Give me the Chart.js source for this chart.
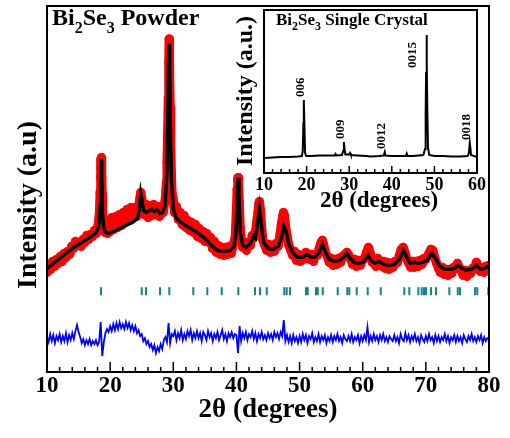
<!DOCTYPE html>
<html>
<head>
<meta charset="utf-8">
<script src="https://cdn.jsdelivr.net/npm/chart.js@4.4.1/dist/chart.umd.min.js"></script>
<style>
  html, body { margin: 0; padding: 0; background: #fff; }
  #wrap { position: relative; width: 510px; height: 438px; }
  #wrap canvas { position: absolute; left: 0; top: 0; }
</style>
</head>
<body>
<div id="wrap">
  <canvas id="main" width="510" height="438"></canvas>
  <canvas id="inset" width="510" height="438"></canvas>
</div>
<script>
// Bi2Se3 powder pattern: [2theta (deg), intensity (a.u.)]
const observed = [
  [10.0,100],[10.3,108],[10.6,103],[10.9,111],[11.2,106],[11.5,113],[11.8,109],[12.1,116],[12.4,111],[12.7,119],
  [13.0,115],[13.3,121],[13.6,118],[13.9,126],[14.2,124],[14.5,131],[14.8,127],[15.1,130],[15.4,126],[15.7,133],
  [16.0,130],[16.3,137],[16.6,133],[16.9,138],[17.2,136],[17.5,142],[17.8,139],[18.1,148],[18.3,160],[18.4,180],
  [18.45,195],[18.5,205],[18.55,213],[18.6,215],[18.65,208],[18.7,195],[18.75,178],[18.8,162],[18.9,150],[19.0,146],
  [19.2,140],[19.4,147],[19.6,139],[19.8,152],[20.0,141],[20.3,155],[20.6,143],[20.9,156],[21.2,145],[21.5,158],
  [21.8,147],[22.1,160],[22.4,150],[22.7,163],[23.0,152],[23.3,165],[23.6,154],[23.9,165],[24.2,156],[24.5,166],
  [24.7,174],[24.85,180],[25.0,175],[25.2,166],[25.4,158],[25.7,168],[26.0,155],[26.3,167],[26.6,157],[26.9,168],
  [27.2,158],[27.5,166],[27.8,156],[28.1,166],[28.4,160],[28.7,172],[28.9,190],[29.0,210],[29.1,240],[29.2,275],
  [29.28,310],[29.33,334],[29.38,325],[29.45,300],[29.52,265],[29.6,230],[29.7,200],[29.8,180],[30.0,172],[30.2,160],
  [30.5,166],[30.8,153],[31.1,160],[31.4,148],[31.7,157],[32.0,145],[32.3,152],[32.6,142],[32.9,150],[33.2,140],
  [33.5,148],[33.8,136],[34.1,144],[34.4,134],[34.7,141],[35.0,131],[35.3,139],[35.6,130],[35.9,135],[36.2,124],
  [36.5,131],[36.8,120],[37.1,127],[37.4,118],[37.7,125],[38.0,117],[38.3,125],[38.6,118],[38.9,126],[39.2,119],
  [39.5,128],[39.8,135],[40.0,165],[40.1,183],[40.2,193],[40.27,195],[40.35,188],[40.45,170],[40.6,145],[40.8,130],
  [41.0,125],[41.3,130],[41.6,122],[41.9,130],[42.2,127],[42.5,137],[42.8,135],[43.0,140],[43.2,150],[43.4,160],
  [43.55,169],[43.65,171],[43.8,163],[44.0,145],[44.2,132],[44.5,127],[44.8,122],[45.1,128],[45.4,120],[45.7,127],
  [46.0,121],[46.3,129],[46.6,126],[46.9,138],[47.1,148],[47.3,156],[47.45,160],[47.6,157],[47.8,146],[48.0,137],
  [48.3,127],[48.6,122],[48.9,117],[49.2,121],[49.5,112],[49.8,118],[50.1,111],[50.4,117],[50.7,113],[51.0,120],
  [51.3,118],[51.6,113],[51.9,118],[52.2,111],[52.5,117],[52.8,117],[53.1,124],[53.4,130],[53.6,132],[53.8,128],
  [54.1,120],[54.4,116],[54.7,110],[55.0,114],[55.3,107],[55.6,113],[55.9,108],[56.2,114],[56.5,110],[56.8,116],
  [57.2,118],[57.5,120],[57.8,117],[58.1,113],[58.4,108],[58.7,113],[59.0,106],[59.3,112],[59.6,107],[59.9,112],
  [60.3,114],[60.6,120],[60.9,125],[61.2,119],[61.5,110],[61.8,113],[62.1,106],[62.4,114],[62.7,110],[63.0,106],
  [63.3,111],[63.6,104],[63.9,110],[64.2,103],[64.5,109],[64.8,105],[65.1,111],[65.5,110],[65.8,117],[66.1,123],
  [66.4,125],[66.7,120],[67.0,113],[67.3,109],[67.6,105],[67.9,111],[68.2,105],[68.5,111],[68.8,106],[69.1,112],
  [69.4,108],[69.7,114],[70.0,113],[70.4,118],[70.8,123],[71.1,122],[71.4,115],[71.7,109],[72.0,104],[72.3,100],
  [72.6,105],[72.9,98],[73.2,103],[73.5,97],[73.8,103],[74.1,99],[74.4,105],[74.7,104],[75.0,109],[75.3,105],
  [75.6,102],[75.9,97],[76.2,102],[76.5,96],[76.8,101],[77.1,99],[77.4,104],[77.7,104],[78.0,110],[78.3,106],
  [78.6,101],[78.9,104],[79.2,100],[79.5,106],[79.8,103],[80.0,107]
];

const calculated = [
  [10.0,104],[11.0,109],[12.0,114],[13.0,119],[14.0,124],[15.0,128],[16.0,132],[17.0,136],[17.8,140],[18.2,146],
  [18.4,167],[18.5,200],[18.58,214],[18.66,197],[18.8,157],[19.0,144],[19.3,140],[19.7,139],[20.5,141],[21.5,144],
  [22.5,147],[23.5,150],[24.3,154],[24.6,162],[24.85,179],[25.05,172],[25.3,162],[25.7,160],[26.2,162],[26.6,163],
  [27.0,161],[27.4,163],[27.9,159],[28.3,160],[28.7,167],[29.0,202],[29.15,262],[29.25,312],[29.33,329],[29.42,312],
  [29.52,252],[29.7,192],[30.0,164],[30.4,155],[31.0,151],[32.0,147],[33.0,143],[34.0,139],[35.0,134],[35.6,130],
  [36.2,126],[37.0,122],[38.0,121],[39.0,122],[39.6,126],[39.9,137],[40.1,172],[40.25,195],[40.4,177],[40.6,140],
  [41.0,127],[41.5,125],[42.2,129],[42.7,136],[43.0,134],[43.35,150],[43.65,164],[43.95,147],[44.3,130],[45.0,124],
  [45.8,123],[46.6,126],[47.1,134],[47.5,146],[47.9,140],[48.3,128],[48.9,120],[49.6,115],[50.5,115],[51.2,118],
  [51.8,115],[52.4,115],[53.1,120],[53.6,128],[54.1,120],[54.7,113],[55.5,111],[56.3,112],[57.0,115],[57.5,119],
  [58.0,114],[58.6,110],[59.3,109],[60.1,110],[60.5,114],[60.9,117],[61.3,112],[61.9,109],[62.6,111],[63.3,108],
  [64.2,107],[65.0,108],[65.8,113],[66.4,122],[66.9,116],[67.5,109],[68.2,110],[68.8,109],[69.5,110],[70.2,112],
  [70.9,119],[71.5,114],[72.2,106],[73.0,103],[73.8,103],[74.5,104],[75.1,107],[75.7,104],[76.4,102],[77.2,103],
  [78.0,107],[78.6,103],[79.3,104],[80.0,107]
];

// obs - calc, sampled every 0.25 deg starting at 10 deg
const diffStart = 10;
const diffStep = 0.25;
const difference = [
  1,-4,4,-3,3,-5,2,-2,4,-4,2,-3,5,-4,3,-2,5,-1,7,13,
  6,1,-5,-1,-7,-2,-6,-1,-7,-3,-6,-2,-7,-4,16,-18,-4,5,9,6,
  12,7,14,8,15,9,16,10,14,9,16,10,15,8,13,7,12,5,8,2,
  4,-3,0,-6,-3,-9,-6,-12,-7,-15,-9,-13,-6,-11,-2,1,-4,15,-5,4,
  2,7,-2,5,0,8,-2,4,-1,7,2,8,-2,5,0,7,0,5,-3,6,
  3,-2,7,1,5,-3,4,0,6,-2,3,8,-1,4,-3,5,1,6,0,4,
  3,-15,12,-3,5,0,6,-2,4,1,7,-1,5,-3,4,0,6,-1,3,-2,
  5,0,4,-2,6,1,5,-1,6,2,18,-3,3,-4,2,-5,3,-3,1,-5,
  2,-4,4,-2,3,-5,2,-1,5,-4,1,-3,4,-4,2,-2,3,-5,1,-3,
  3,-4,2,-2,4,-3,1,-5,3,-1,-3,2,-3,4,-4,1,-2,3,-5,2,
  -3,3,-2,11,-4,2,-3,4,-2,2,-4,3,-2,4,-3,1,-4,2,-1,-3,
  3,-3,1,-5,4,-1,-3,5,-2,3,-4,2,-2,4,-3,1,-5,3,-1,-4,
  2,-3,4,-2,1,-5,3,-3,2,-4,1,-2,4,-3,2,-5,1,-2,3,-4,
  2,-3,1,-5,3,-1,-4,2,-2,4,-3,1,-4,2,-2,3,-5,1,-3,0,
  -1
];

// Bragg reflection positions (deg)
const braggPositions = [
  18.55, 25.0, 25.68, 27.9, 29.37, 33.17, 35.39, 37.67, 40.3, 42.94,
  43.73, 44.8, 47.58, 47.96, 48.49, 51.02, 51.29, 52.6, 52.87, 53.67,
  56.04, 57.56, 57.88, 59.05, 60.79, 62.85, 66.59, 67.38, 68.81, 69.34,
  69.71, 70.02, 70.82, 71.61, 73.72, 75.05, 75.41, 77.79, 78.15, 79.89
];

// single crystal inset: [2theta (deg), intensity (a.u.)]
const crystal = [
  [10,15],[12,15.5],[14,16],[16,16],[18,16.5],[18.9,17],[19.1,22],[19.25,50],[19.35,73],[19.5,45],
  [19.65,20],[19.9,17],[21,17],[23,17.5],[25,17.5],[26.6,17.5],[26.8,19],[27,17.5],[28.3,18],[28.6,22],
  [28.75,31],[28.9,24],[29.1,18.5],[30,18.5],[30.2,20],[30.4,18],[32,17.5],[34,17],[35,16.5],[37,17],
  [38.1,17.5],[38.35,21],[38.5,17.5],[40,17],[43.3,17],[43.5,19.5],[43.7,17],[45,17],[47.4,18],[47.8,24],
  [47.95,60],[48.05,100],[48.15,138],[48.25,110],[48.35,60],[48.5,25],[48.8,18],[50,17],[52,17],[54,16.5],
  [56,16.5],[57.8,17],[58.1,20],[58.3,30],[58.45,25],[58.6,18],[60,16]
];
const crystalPeakLabels = ['006', '009', '0012', '0015', '0018'];
const crystalPeakPositions = [19.35, 28.75, 38.35, 48.15, 58.3];
const crystalPeakHeights = [73, 31, 21, 138, 30];

const SERIF = "'Liberation Serif', 'Times New Roman', serif";
const DIFF_OFFSET = 34;   // where the difference curve sits
const BRAGG_LEVEL = 81;   // where the reflection markers sit

function toPoints(pairs) {
  return pairs.map(([x, y]) => ({ x, y }));
}

// text with subscripts: parts = [text, size, dy]
function drawParts(ctx, x, y, parts) {
  ctx.textAlign = 'left';
  ctx.textBaseline = 'alphabetic';
  for (const [txt, size, dy] of parts) {
    ctx.font = `bold ${size}px ${SERIF}`;
    ctx.fillText(txt, x, y + dy);
    x += ctx.measureText(txt).width;
  }
}

function drawRotated(ctx, txt, x, y, size) {
  ctx.save();
  ctx.translate(x, y);
  ctx.rotate(-Math.PI / 2);
  ctx.font = `bold ${size}px ${SERIF}`;
  ctx.textAlign = 'center';
  ctx.textBaseline = 'middle';
  ctx.fillText(txt, 0, 0);
  ctx.restore();
}

function drawFrame(chart, majorLen, minorLen) {
  const { ctx, chartArea: a, scales: { x } } = chart;
  ctx.strokeStyle = '#000';
  ctx.lineWidth = 2;
  ctx.strokeRect(a.left, a.top, a.right - a.left, a.bottom - a.top);
  ctx.lineWidth = 1.5;
  for (let v = x.min; v <= x.max + 1e-6; v += 2) {
    const px = x.getPixelForValue(v);
    const len = (Math.round(v) % 10 === 0) ? majorLen : minorLen;
    ctx.beginPath();
    ctx.moveTo(px, a.bottom);
    ctx.lineTo(px, a.bottom - len);
    ctx.stroke();
  }
}

const mainDecor = {
  id: 'mainDecor',
  afterDraw(chart) {
    const ctx = chart.ctx;
    ctx.save();
    drawFrame(chart, 10, 5);
    ctx.fillStyle = '#000';
    drawParts(ctx, 52, 25, [['Bi', 24, 0], ['2', 16, 8], ['Se', 24, 0], ['3', 16, 8], [' Powder', 24, 0]]);
    drawRotated(ctx, 'Intensity (a.u)', 29, 205, 28);
    ctx.restore();
  }
};

const insetDecor = {
  id: 'insetDecor',
  afterDraw(chart) {
    const { ctx, chartArea: a, scales: { x, y } } = chart;
    ctx.save();
    drawFrame(chart, 7, 4);
    ctx.fillStyle = '#000';
    drawParts(ctx, 276, 25, [['Bi', 17, 0], ['2', 12, 5], ['Se', 17, 0], ['3', 12, 5], [' Single Crystal', 17, 0]]);
    drawRotated(ctx, 'Intensity (a.u.)', 246, 91, 24);
    ctx.font = `bold 23px ${SERIF}`;
    ctx.textAlign = 'center';
    ctx.textBaseline = 'middle';
    ctx.fillText('2θ (degrees)', 379, 201);
    // peak labels, reading upwards
    ctx.font = `bold 13px ${SERIF}`;
    crystalPeakLabels.forEach((lab, i) => {
      const px = x.getPixelForValue(crystalPeakPositions[i]);
      const py = y.getPixelForValue(crystalPeakHeights[i]);
      const w = ctx.measureText(lab).width;
      let cx = px - 3, bottom = py - 3;
      if (bottom - w < a.top + 4) { cx = px - 14; bottom = py + 33; }
      ctx.save();
      ctx.translate(cx, bottom);
      ctx.rotate(-Math.PI / 2);
      ctx.textAlign = 'left';
      ctx.textBaseline = 'middle';
      ctx.fillText(lab, 0, 0);
      ctx.restore();
    });
    ctx.restore();
  }
};

new Chart(document.getElementById('main'), {
  type: 'line',
  data: {
    datasets: [
      {
        label: 'Calculated',
        data: toPoints(calculated),
        borderColor: '#000',
        borderWidth: 3.5,
        pointRadius: 0,
        clip: 0,
        order: 1
      },
      {
        label: 'Observed',
        data: toPoints(observed),
        borderColor: '#ff0000',
        backgroundColor: '#ff0000',
        borderWidth: 9,
        borderJoinStyle: 'round',
        borderCapStyle: 'round',
        pointRadius: 4.5,
        pointBorderWidth: 0,
        clip: 0,
        order: 2
      },
      {
        label: 'Bragg positions',
        type: 'scatter',
        data: braggPositions.map(x => ({ x, y: BRAGG_LEVEL })),
        pointStyle: 'line',
        rotation: 90,
        pointRadius: 4,
        borderColor: '#108585',
        borderWidth: 2,
        showLine: false
      },
      {
        label: 'Difference',
        data: difference.map((d, i) => ({ x: diffStart + i * diffStep, y: d + DIFF_OFFSET })),
        borderColor: '#0000ff',
        borderWidth: 1.8,
        pointRadius: 0,
        clip: 0
      }
    ]
  },
  options: {
    responsive: false,
    animation: false,
    events: [],
    layout: { padding: { left: 47, right: 21, top: 5, bottom: 0 } },
    plugins: { legend: { display: false }, tooltip: { enabled: false } },
    scales: {
      x: {
        type: 'linear',
        min: 10,
        max: 80,
        grid: { display: false, drawTicks: false },
        border: { display: false },
        ticks: { stepSize: 10, padding: 0, color: '#000', font: { family: SERIF, size: 23, weight: 'bold' } },
        title: {
          display: true,
          text: '2θ (degrees)',
          color: '#000',
          font: { family: SERIF, size: 27, weight: 'bold' },
          padding: { top: 0, bottom: 12 }
        },
        afterFit: s => { s.height = 66; }
      },
      y: { display: false, min: 0, max: 367 }
    }
  },
  plugins: [mainDecor]
});

new Chart(document.getElementById('inset'), {
  type: 'line',
  data: {
    datasets: [{
      label: 'Single crystal',
      data: toPoints(crystal),
      borderColor: '#000',
      borderWidth: 2,
      pointRadius: 0,
      clip: 0
    }]
  },
  options: {
    responsive: false,
    animation: false,
    events: [],
    layout: { padding: { left: 264, right: 33, top: 10, bottom: 0 } },
    plugins: { legend: { display: false }, tooltip: { enabled: false } },
    scales: {
      x: {
        type: 'linear',
        min: 10,
        max: 60,
        grid: { display: false, drawTicks: false },
        border: { display: false },
        ticks: { stepSize: 10, padding: 2, color: '#000', font: { family: SERIF, size: 18, weight: 'bold' } },
        afterFit: s => { s.height = 265; }
      },
      y: { display: false, min: 0, max: 163 }
    }
  },
  plugins: [insetDecor]
});
</script>
</body>
</html>
